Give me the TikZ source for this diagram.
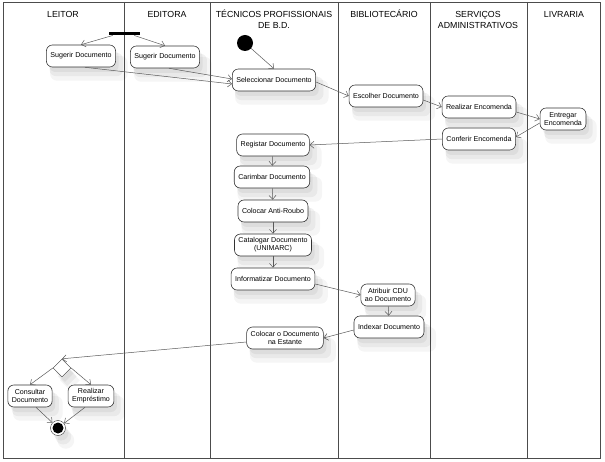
\documentclass[tikz,border=0pt]{standalone}
\usepackage{fontspec}
\setmainfont{Liberation Sans}
\usetikzlibrary{shapes.geometric, arrows.meta, shadows}

\newcommand{\actfont}{\fontsize{7.1}{8}\selectfont}
\newcommand{\lanefont}{\fontsize{8.8}{10.5}\selectfont}

\tikzset{
    softshadow/.style={
        general shadow={shadow xshift=3pt, shadow yshift=-5pt, opacity=0.05, fill=black},
        general shadow={shadow xshift=5pt, shadow yshift=-8pt, shadow scale=1.06, opacity=0.05, fill=black},
        general shadow={shadow xshift=7pt, shadow yshift=-11pt, shadow scale=1.12, opacity=0.04, fill=black}},
    activity/.style={draw=black!80, fill=white, rounded corners=6pt, align=center,
        minimum height=22pt, inner xsep=4pt, inner ysep=3pt, font=\actfont, line width=0.6pt,
        softshadow},
    header/.style={align=center, inner sep=0pt, font=\lanefont},
    lane/.style={draw=black!70, line width=0.7pt},
    flow/.style={draw=black!65, line width=0.5pt, ->},
    >={Straight Barb[length=4pt,width=7pt]}
}

\begin{document}
\begin{tikzpicture}[x=1pt, y=-1pt]
    \useasboundingbox (0,0) rectangle (605,462);

    % swimlanes
    \draw[lane] (3,2) rectangle (600,458);
    \foreach \x in {124,210,338,430,527}
        \draw[lane] (\x,2) -- (\x,458);

    \node[header, anchor=base] (hLeitor) at (63,18) {LEITOR};
    \node[header, anchor=base] (hEditora) at (167,18) {EDITORA};
    \node[header, anchor=base] (hTecnicos) at (274,28.5) {TÉCNICOS PROFISSIONAIS\\DE B.D.};
    \node[header, anchor=base] (hBiblio) at (384,18) {BIBLIOTECÁRIO};
    \node[header, anchor=base] (hServicos) at (478,28.5) {SERVIÇOS\\ADMINISTRATIVOS};
    \node[header, anchor=base] (hLivraria) at (564,18) {LIVRARIA};

    % start, fork, end
    \node[fill=black, minimum width=31pt, minimum height=3.5pt, inner sep=0pt] (bar) at (124.5,33.5) {};
    \node[circle, fill=black, minimum size=16pt, inner sep=0pt] (start) at (245,43) {};
    \node[diamond, draw=black!80, fill=white, minimum size=18pt, inner sep=0pt, softshadow] (diam) at (62,368) {};
    \node[circle, draw=black!80, fill=white, minimum size=15pt, inner sep=0pt, softshadow] (fim) at (58,428) {};
    \fill[black] (fim.center) circle (5.5pt);

    % activities
    \node[activity] (sugL) at (81,56) {Sugerir Documento};
    \node[activity] (sugE) at (165,57) {Sugerir Documento};
    \node[activity] (selec) at (274,80) {Seleccionar Documento};
    \node[activity] (escol) at (386,96) {Escolher Documento};
    \node[activity] (realE) at (479,107) {Realizar Encomenda};
    \node[activity] (entreg) at (563,119) {Entregar\\Encomenda};
    \node[activity] (confer) at (479,139) {Conferir Encomenda};
    \node[activity] (regist) at (273,145) {Registar Documento};
    \node[activity] (carimb) at (272,177) {Carimbar Documento};
    \node[activity] (anti) at (273,211) {Colocar Anti-Roubo};
    \node[activity] (catal) at (273,245) {Catalogar Documento\\(UNIMARC)};
    \node[activity] (inform) at (273,279) {Informatizar Documento};
    \node[activity] (atrib) at (388,295) {Atribuir CDU\\ao Documento};
    \node[activity] (index) at (389,327) {Indexar Documento};
    \node[activity] (estante) at (285,338) {Colocar o Documento\\na Estante};
    \node[activity] (consult) at (30,396) {Consultar\\Documento};
    \node[activity] (emprest) at (91,396) {Realizar\\Empréstimo};

    % flows
    \draw[flow] ([xshift=4pt]bar.south west) -- (sugL.north);
    \draw[flow] ([xshift=-6pt]bar.south east) -- (sugE.north);
    \draw[flow] ([xshift=4pt]sugL.south) -- ([yshift=-4pt]selec.west);
    \draw[flow] ([xshift=4pt]sugE.south) -- ([yshift=1pt]selec.west);
    \draw[flow] (start) -- (selec.north);
    \draw[flow] ([yshift=-2pt]selec.east) -- (escol.west);
    \draw[flow] ([yshift=-4pt]escol.east) -- (realE.west);
    \draw[flow] ([yshift=-5pt]realE.east) -- (entreg.west);
    \draw[flow] ([yshift=-4pt]entreg.west) -- ([yshift=2pt]confer.east);
    \draw[flow] (confer.west) -- (regist.east);
    \foreach \a/\b in {regist/carimb, carimb/anti, anti/catal, catal/inform}
        \draw[flow] (\a) -- (\b);
    \draw[flow] ([yshift=-5pt]inform.east) -- (atrib.west);
    \draw[flow] (atrib) -- (index);
    \draw[flow] ([yshift=-3pt]index.west) -- (estante.east);
    \draw[flow] ([yshift=-4pt]estante.west) -- (diam.north);
    \draw[flow] (diam.west) -- (consult.north);
    \draw[flow] (diam.east) -- (emprest.north);
    \draw[flow] ([xshift=6pt]consult.south) -- (fim);
    \draw[flow] ([xshift=-6pt]emprest.south) -- (fim);
\end{tikzpicture}
\end{document}
